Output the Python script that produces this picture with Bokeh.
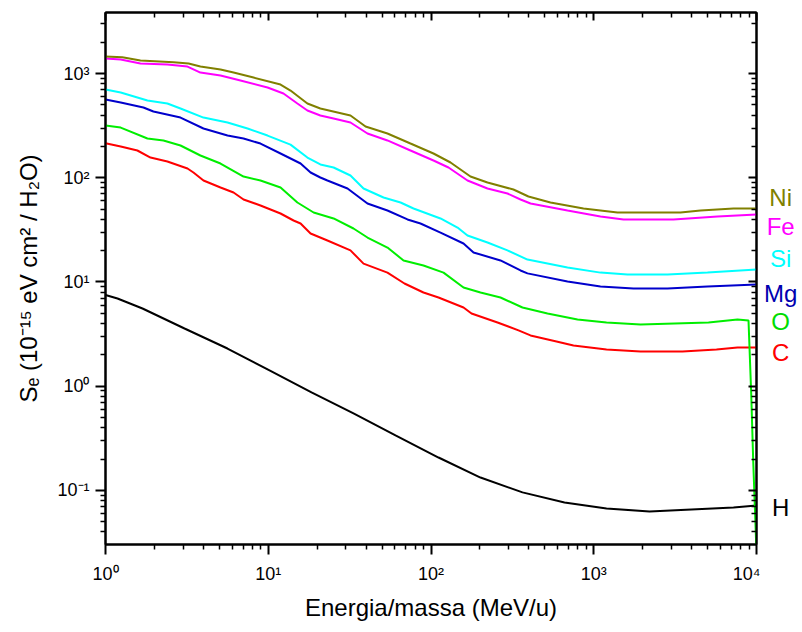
from bokeh.plotting import figure
from bokeh.layouts import row
from bokeh.models import LogAxis, FixedTicker, Range1d, ColumnDataSource
from bokeh.core.properties import value
from bokeh.embed import file_html
from bokeh.resources import INLINE

# ---------------- data ----------------
ni_e = [1.0, 1.27, 1.64, 2.62, 3.24, 3.83, 5.09, 6.12, 8.12, 11.9, 13.7, 17.4, 20.9, 32.0, 39.6, 54.0,
        74.8, 103.6, 131.8, 174.8, 222.4, 321, 397, 542, 865, 1399, 3412, 4529, 7222, 10000]
ni_s = [1456, 1434, 1332, 1284, 1247, 1167, 1092, 1022, 915, 784, 687, 516, 462, 396, 310, 266,
        213, 170.9, 140.1, 102.8, 90.0, 77.1, 66.1, 57.9, 50.7, 46.4, 46.4, 48.5, 50.7, 50.7]

fe_e = [1.0, 1.24, 1.64, 2.40, 3.19, 3.83, 5.09, 6.75, 9.90, 12.4, 15.1, 17.4, 20.9, 25.2, 32.0, 40.7,
        54.0, 74.8, 103.6, 128.1, 167.6, 222.4, 295, 355, 409, 690, 1100, 1523, 3090, 5760, 10000]
fe_s = [1393, 1363, 1247, 1220, 1167, 1022, 957, 857, 734, 643, 516, 442, 396, 370, 339, 266,
        228, 182.6, 146.4, 125.4, 94.1, 78.9, 70.6, 61.9, 56.6, 48.5, 42.5, 39.8, 39.8, 42.5, 44.4]

si_e = [1.0, 1.24, 1.81, 2.40, 2.89, 4.00, 5.62, 7.46, 9.90, 13.7, 17.4, 20.9, 25.2, 32.0, 38.5, 51.1,
        65.0, 78.1, 114.4, 145.5, 167.6, 222.4, 295, 391.6, 690, 1100, 1612, 2839, 5000, 10000]
si_s = [702, 657, 551, 516, 462, 378, 339, 297, 254, 208, 156.4, 134.1, 125.4, 105.1, 78.9, 64.7,
        57.9, 50.7, 40.7, 33.3, 27.9, 23.9, 20.1, 16.4, 13.8, 12.3, 11.8, 11.8, 12.3, 13.2]

mg_e = [1.0, 1.24, 1.71, 1.97, 2.89, 4.00, 5.62, 7.05, 8.96, 11.9, 15.8, 18.2, 20.9, 23.1, 30.7, 40.7,
        54.0, 71.7, 86.2, 114.4, 158.4, 182.5, 267.3, 354.8, 391.6, 690, 1100, 1755, 2839, 5000, 10000]
mg_s = [563, 527, 472, 432, 378, 297, 254, 238, 213, 170.9, 137.0, 112.3, 100.6, 94.1, 78.9, 56.6,
        48.5, 39.8, 36.4, 29.8, 23.4, 19.2, 16.1, 12.9, 12.1, 10.1, 9.05, 8.66, 8.66, 9.05, 9.46]

o_e = [1.0, 1.24, 1.81, 2.27, 2.89, 3.83, 5.09, 7.05, 8.96, 11.9, 15.1, 19.0, 25.2, 33.4, 40.7, 54.0,
       67.8, 89.9, 119.4, 158.4, 201.4, 267.3, 364.9, 519.9, 794.9, 1198, 1938, 3134, 5072, 7643,
       8931, 9278, 9544, 10000]
o_s = [317, 303, 238, 228, 204, 163.5, 137.0, 102.8, 94.1, 80.6, 57.9, 46.4, 40.7, 32.6, 26.7, 21.4,
       16.1, 14.4, 12.3, 8.86, 7.93, 7.10, 5.69, 4.99, 4.37, 4.09, 3.91, 4.00, 4.09, 4.37,
       4.27, 0.852, 0.194, 0.025]

c_e = [1.0, 1.24, 1.57, 1.89, 2.40, 3.19, 3.47, 4.00, 5.09, 6.12, 7.05, 8.96, 11.9, 14.3, 15.8, 18.2,
       23.1, 32.0, 38.5, 54.0, 68.7, 89.9, 111.2, 158.4, 177.4, 256.3, 344.9, 408.6, 590.3, 750.7,
       1198, 1938, 3510, 5679, 7643, 10000]
c_s = [214.5, 199.5, 182.6, 156.4, 143.2, 122.7, 112.3, 94.1, 80.6, 72.2, 61.9, 54.2, 45.4, 38.9, 36.4, 29.2,
       25.0, 20.1, 15.0, 12.3, 9.67, 7.93, 7.10, 5.69, 4.99, 4.09, 3.43, 3.07, 2.69, 2.46,
       2.25, 2.15, 2.15, 2.25, 2.35, 2.35]

h_e = [1.0, 1.185, 1.688, 3.058, 5.617, 10.18, 18.44, 33.41, 60.52, 111.2, 201.4, 364.9, 661.2,
       1198, 2201, 3987, 7222, 10000]
h_s = [7.5, 6.95, 5.57, 3.58, 2.30, 1.416, 0.871, 0.548, 0.337, 0.207, 0.133, 0.0958, 0.0767,
       0.0672, 0.0629, 0.0657, 0.0687, 0.0718]

series_names = ["H", "C", "O", "Mg", "Si", "Fe", "Ni"]
series_colors = ["#000000", "#FF0000", "#00EE00", "#0000CC", "#00FFFF", "#FF00FF", "#808000"]
series_e = [h_e, c_e, o_e, mg_e, si_e, fe_e, ni_e]
series_s = [h_s, c_s, o_s, mg_s, si_s, fe_s, ni_s]

label_y = [0.0687, 2.11, 4.18, 7.76, 16.8, 34.0, 64.7]
label_colors = ["#000000", "#FF0000", "#00DD00", "#0000B0", "#00FFFF", "#FF00FF", "#808000"]

x_major = [1, 10, 100, 1000, 10000]
x_labels = ["10⁰", "10¹", "10²", "10³", "10⁴"]
y_major = [0.1, 1, 10, 100, 1000]
y_labels = ["10⁻¹", "10⁰", "10¹", "10²", "10³"]

x_minor = [m * 10 ** k for k in range(0, 4) for m in range(2, 10)]
y_minor = [m * 10.0 ** k for k in range(-2, 4) for m in range(2, 10)]

x_title = "Energia/massa (MeV/u)"
y_title = "Sₑ (10⁻¹⁵ eV cm² / H₂O)"

FONT = "Liberation Sans"

p = figure(width=760, height=632, x_axis_type="log", y_axis_type="log",
           x_range=Range1d(1, 1e4), y_range=Range1d(0.0303, 3850),
           output_backend="svg", toolbar_location=None,
           min_border_left=105, min_border_right=4, min_border_top=12, min_border_bottom=88)
p.grid.visible = False
p.outline_line_color = "black"
p.outline_line_width = 2
p.background_fill_color = "white"
p.border_fill_color = "white"

xa = p.xaxis[0]
ya = p.yaxis[0]
xa.ticker = FixedTicker(ticks=x_major, minor_ticks=x_minor)
ya.ticker = FixedTicker(ticks=y_major, minor_ticks=y_minor)
xa.major_label_overrides = dict(zip(x_major, x_labels))
ya.major_label_overrides = dict(zip(y_major, y_labels))
xa.axis_label = x_title
ya.axis_label = y_title
for ax in (xa, ya):
    ax.axis_line_width = 2
    ax.major_tick_line_width = 2
    ax.minor_tick_line_width = 1.5
    ax.major_tick_out = 10
    ax.major_tick_in = 0
    ax.minor_tick_out = 5
    ax.minor_tick_in = 0
    ax.major_label_text_font = FONT
    ax.major_label_text_font_size = "18px"
    ax.major_label_text_color = "black"
    ax.axis_label_text_font = FONT
    ax.axis_label_text_font_size = "24px"
    ax.axis_label_text_font_style = "normal"
    ax.axis_label_text_color = "black"
xa.major_label_standoff = 9
xa.axis_label_standoff = 7
ya.major_label_standoff = 6
ya.axis_label_standoff = 12

top = LogAxis(ticker=FixedTicker(ticks=x_major, minor_ticks=x_minor))
right = LogAxis(ticker=FixedTicker(ticks=y_major, minor_ticks=y_minor))
for ax in (top, right):
    ax.axis_line_width = 2
    ax.major_tick_line_width = 2
    ax.minor_tick_line_width = 1.5
    ax.major_tick_in = 8
    ax.major_tick_out = 0
    ax.minor_tick_in = 5
    ax.minor_tick_out = 0
    ax.major_label_text_font_size = "1px"
    ax.major_label_text_color = None
    ax.major_label_standoff = 0
    ax.axis_label_standoff = 0
p.add_layout(top, "above")
p.add_layout(right, "right")

for e, s, c in zip(series_e, series_s, series_colors):
    p.line(e, s, line_color=c, line_width=2)

# narrow companion panel on the right that holds the element names, sharing the y scale
q = figure(width=42, height=632, y_axis_type="log", x_range=Range1d(0, 1), y_range=p.y_range,
           output_backend="svg", toolbar_location=None, x_axis_location=None, y_axis_location=None,
           min_border_left=0, min_border_right=0, min_border_top=12, min_border_bottom=88)
q.grid.visible = False
q.outline_line_color = None
q.background_fill_color = "white"
q.border_fill_color = "white"
src = ColumnDataSource(dict(x=[0.48] * len(series_names), y=label_y, t=series_names, c=label_colors))
q.text(x="x", y="y", text="t", text_color="c", source=src, text_font=value(FONT),
       text_font_size="24px", text_align="center", text_baseline="middle")

layout = row(p, q, spacing=0)
open("out.html", "w").write(file_html(layout, INLINE))
